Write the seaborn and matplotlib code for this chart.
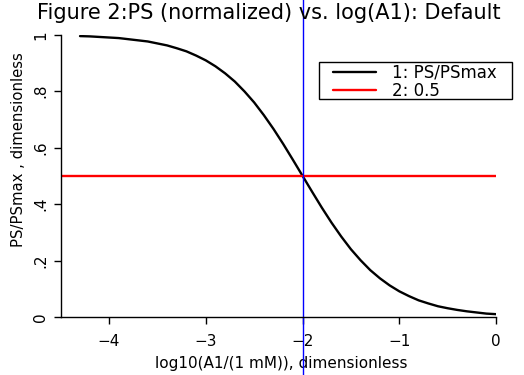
import matplotlib
matplotlib.use("Agg")
import matplotlib.pyplot as plt
from matplotlib.patches import Rectangle
import seaborn as sns
import pandas as pd

# Data
log_a1 = [-4.3, -4.2, -4.1, -4.0, -3.9, -3.8, -3.7, -3.6, -3.5, -3.4, -3.3, -3.2,
          -3.1, -3.0, -2.9, -2.8, -2.7, -2.6, -2.5, -2.4, -2.3, -2.2, -2.1, -2.0,
          -1.9, -1.8, -1.7, -1.6, -1.5, -1.4, -1.3, -1.2, -1.1, -1.0, -0.9, -0.8,
          -0.7, -0.6, -0.5, -0.4, -0.3, -0.2, -0.1, 0.0]
ps_norm = [0.995, 0.994, 0.992, 0.990, 0.988, 0.984, 0.980, 0.976, 0.969, 0.962,
           0.952, 0.941, 0.926, 0.909, 0.888, 0.863, 0.834, 0.799, 0.760, 0.715,
           0.666, 0.613, 0.557, 0.500, 0.443, 0.387, 0.334, 0.285, 0.240, 0.201,
           0.166, 0.137, 0.112, 0.091, 0.074, 0.059, 0.048, 0.038, 0.031, 0.025,
           0.020, 0.016, 0.012, 0.010]
half_x = [-4.5, 0.0]
half_y = [0.5, 0.5]
vline_x = -2.0
x_ticks = [-4, -3, -2, -1, 0]
x_ticklabels = ["\u22124", "\u22123", "\u22122", "\u22121", "0"]
y_ticks = [0, 0.2, 0.4, 0.6, 0.8, 1.0]
y_ticklabels = ["0", ".2", ".4", ".6", ".8", "1"]
series_names = ["1: PS/PSmax", "2: 0.5"]

sns.set_style("ticks")
plt.rcParams["font.family"] = ["DejaVu Sans"]
plt.rcParams["text.color"] = "black"
plt.rcParams["axes.labelcolor"] = "black"
plt.rcParams["xtick.color"] = "black"
plt.rcParams["ytick.color"] = "black"

fig = plt.figure(figsize=(5.24, 3.75), dpi=100)
ax = fig.add_axes([0.1158, 0.1547, 0.9466 - 0.1158, 0.9075 - 0.1547])

df1 = pd.DataFrame({"x": log_a1, "y": ps_norm})
df2 = pd.DataFrame({"x": half_x, "y": half_y})
sns.lineplot(data=df1, x="x", y="y", ax=ax, color="black", lw=1.7, label=series_names[0])
sns.lineplot(data=df2, x="x", y="y", ax=ax, color="red", lw=1.7, label=series_names[1])
ax.axvline(vline_x, ymin=-0.21, ymax=1.13, color="blue", lw=1.0, clip_on=False)

ax.set_xlim(-4.5, 0)
ax.set_ylim(0, 1)
ax.set_xticks(x_ticks)
ax.set_xticklabels(x_ticklabels)
ax.set_yticks(y_ticks)
ax.set_yticklabels(y_ticklabels, rotation=90, va="center")
ax.tick_params(axis="both", labelsize=11, length=5, width=1, color="black",
               labelcolor="black")
ax.tick_params(axis="x", pad=7)
ax.tick_params(axis="y", pad=4)
for s in ["top", "right"]:
    ax.spines[s].set_visible(False)
for s in ["left", "bottom"]:
    ax.spines[s].set_color("black")
    ax.spines[s].set_linewidth(1)

ax.set_xlabel("log10(A1/(1 mM)), dimensionless", fontsize=11, va="center", color="black")
ax.set_ylabel("PS/PSmax , dimensionless", fontsize=10.7, va="center", color="black")
ax.xaxis.set_label_coords(0.507, -0.163)
ax.yaxis.set_label_coords(-0.098, 0.592)

leg = ax.legend(loc="upper left", bbox_to_anchor=(0.6255, 0.897), fontsize=12,
                frameon=False, handlelength=2.6, borderpad=0.0,
                labelspacing=0.0, handletextpad=0.95, borderaxespad=0)
for t in leg.get_texts():
    t.set_color("black")
ax.add_patch(Rectangle((0.593, 0.773), 0.444, 0.131, transform=ax.transAxes,
                       fill=False, ec="black", lw=1, clip_on=False, zorder=5))

fig.suptitle("Figure 2:PS (normalized) vs. log(A1): Default", x=0.513, y=0.992,
             va="top", fontsize=15, color="black")

fig.savefig("out.png", dpi=100)
